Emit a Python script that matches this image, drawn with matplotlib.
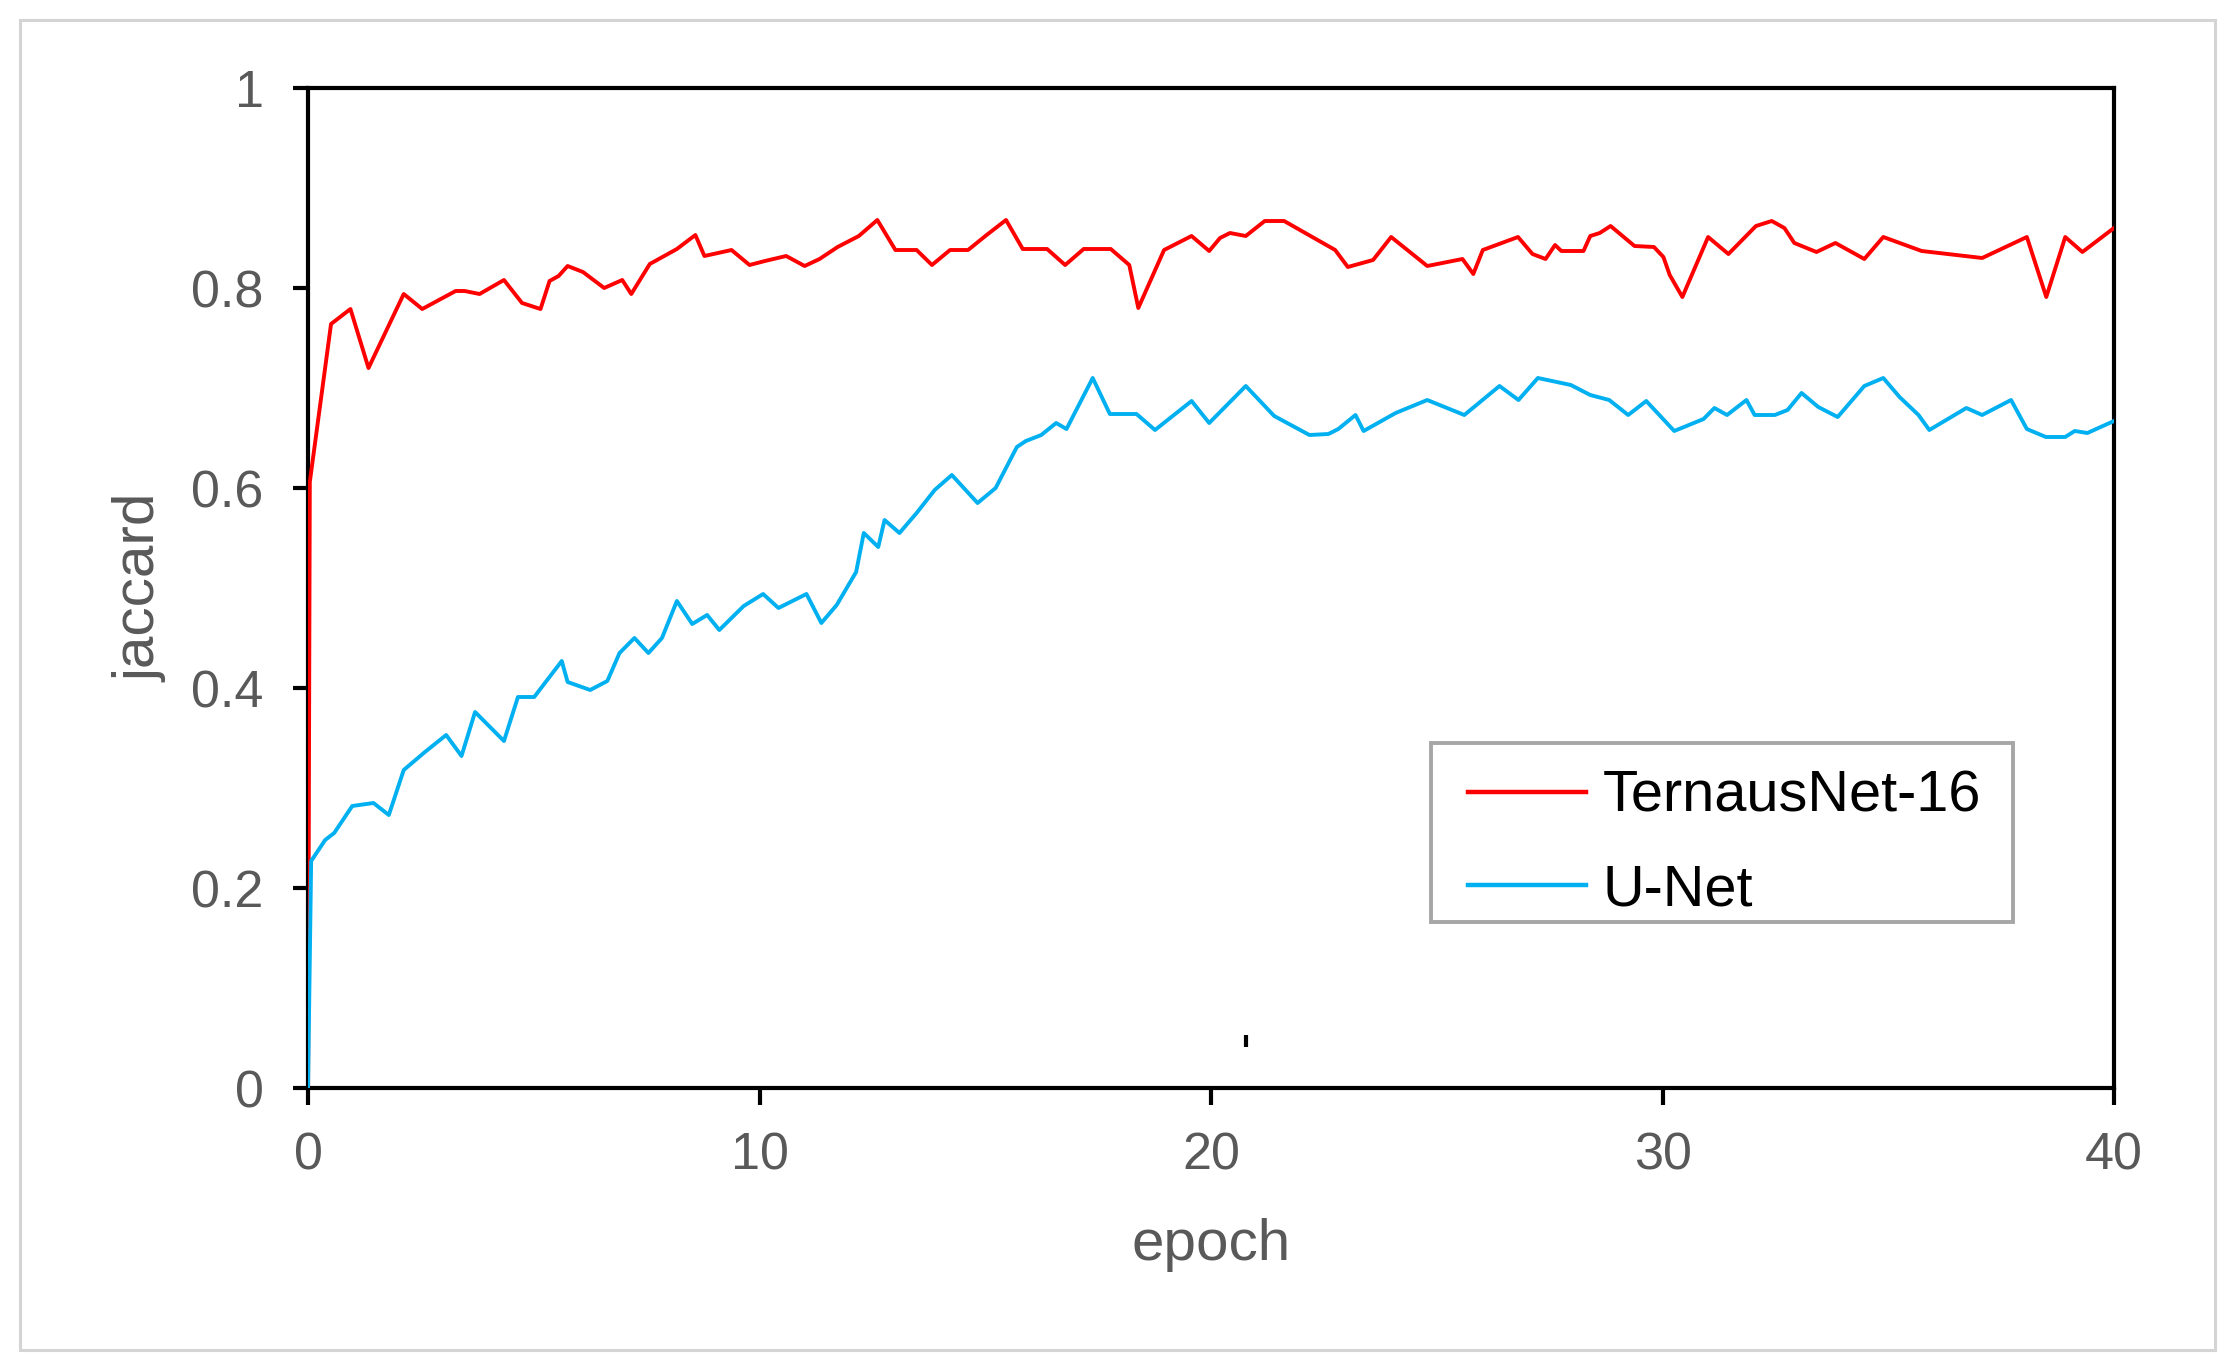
import matplotlib
matplotlib.use('Agg')
import matplotlib.pyplot as plt
from matplotlib.patches import Rectangle

plt.rcParams['font.family'] = ['Liberation Sans', 'DejaVu Sans']

# TernausNet-16
red_epoch = [0, 0.04, 0.51, 0.94, 1.34, 2.12, 2.53, 3.27, 3.47, 3.80, 4.34, 4.74, 5.15, 5.35,
             5.55, 5.75, 6.09, 6.56, 6.96, 7.16, 7.57, 8.17, 8.58, 8.78, 9.38, 9.78, 10.12,
             10.59, 11.0, 11.33, 11.73, 12.2, 12.61, 13.01, 13.48, 13.82, 14.22, 14.62, 15.03,
             15.46, 15.83, 16.37, 16.77, 17.18, 17.78, 18.19, 18.39, 18.96, 19.57, 19.96, 20.2,
             20.42, 20.77, 21.19, 21.62, 22.75, 23.03, 23.59, 23.99, 24.79, 25.57, 25.81, 26.02,
             26.8, 27.12, 27.41, 27.62, 27.76, 28.25, 28.4, 28.61, 28.85, 29.38, 29.81, 30.02,
             30.16, 30.44, 31.01, 31.46, 32.07, 32.42, 32.7, 32.92, 33.41, 33.83, 34.47, 34.89,
             35.74, 37.08, 38.07, 38.5, 38.92, 39.3, 40.0]
red_vals = [0.0, 0.606, 0.764, 0.779, 0.72, 0.794, 0.779, 0.797, 0.797, 0.794, 0.808, 0.785,
            0.779, 0.807, 0.812, 0.822, 0.816, 0.8, 0.808, 0.794, 0.824, 0.839, 0.853, 0.832,
            0.838, 0.823, 0.827, 0.832, 0.822, 0.829, 0.841, 0.852, 0.868, 0.838, 0.838, 0.823,
            0.838, 0.838, 0.853, 0.868, 0.839, 0.839, 0.823, 0.839, 0.839, 0.823, 0.78, 0.838,
            0.852, 0.837, 0.85, 0.855, 0.852, 0.867, 0.867, 0.838, 0.821, 0.828, 0.851, 0.822,
            0.829, 0.814, 0.838, 0.851, 0.834, 0.829, 0.843, 0.837, 0.837, 0.852, 0.855, 0.862,
            0.842, 0.841, 0.831, 0.813, 0.791, 0.851, 0.834, 0.862, 0.867, 0.86, 0.845, 0.836,
            0.845, 0.829, 0.851, 0.837, 0.83, 0.851, 0.791, 0.851, 0.836, 0.86]

# U-Net
blue_epoch = [0, 0.07, 0.38, 0.58, 0.98, 1.45, 1.79, 2.12, 2.59, 3.06, 3.4, 3.7, 4.34, 4.65,
              5.01, 5.62, 5.75, 6.25, 6.63, 6.9, 7.23, 7.54, 7.84, 8.17, 8.51, 8.84, 9.11, 9.65,
              10.08, 10.42, 11.04, 11.37, 11.71, 12.14, 12.31, 12.63, 12.77, 13.1, 13.48, 13.88,
              14.26, 14.83, 15.23, 15.7, 15.9, 16.24, 16.57, 16.8, 17.38, 17.76, 18.35, 18.76,
              19.57, 19.96, 20.77, 21.4, 22.18, 22.6, 22.82, 23.2, 23.38, 24.09, 24.79, 25.61,
              26.39, 26.81, 27.24, 27.97, 28.4, 28.82, 29.24, 29.64, 30.26, 30.91, 31.15, 31.43,
              31.86, 32.04, 32.49, 32.77, 33.08, 33.45, 33.88, 34.47, 34.89, 35.25, 35.67, 35.91,
              36.73, 37.08, 37.72, 38.07, 38.49, 38.92, 39.13, 39.41, 40.0]
blue_vals = [0.0, 0.227, 0.248, 0.255, 0.282, 0.285, 0.273, 0.318, 0.336, 0.353, 0.332, 0.376,
             0.347, 0.391, 0.391, 0.427, 0.406, 0.398, 0.407, 0.435, 0.45, 0.435, 0.45, 0.487,
             0.464, 0.473, 0.458, 0.482, 0.494, 0.48, 0.494, 0.465, 0.483, 0.516, 0.555, 0.541,
             0.568, 0.555, 0.575, 0.598, 0.613, 0.585, 0.6, 0.641, 0.647, 0.653, 0.665, 0.659,
             0.71, 0.674, 0.674, 0.658, 0.687, 0.665, 0.702, 0.672, 0.653, 0.654, 0.659, 0.673,
             0.657, 0.675, 0.688, 0.673, 0.702, 0.688, 0.71, 0.703, 0.693, 0.688, 0.673, 0.687,
             0.657, 0.669, 0.68, 0.673, 0.688, 0.673, 0.673, 0.678, 0.695, 0.681, 0.671, 0.702,
             0.71, 0.691, 0.673, 0.658, 0.68, 0.673, 0.688, 0.659, 0.651, 0.651, 0.657, 0.655,
             0.667]

series_names = ['TernausNet-16', 'U-Net']
x_ticks = [0, 10, 20, 30, 40]
y_ticks = [0, 0.2, 0.4, 0.6, 0.8, 1]
y_ticklabels = ['0', '0.2', '0.4', '0.6', '0.8', '1']

# small stray tick that is in the original picture
stray_x = [20.78, 20.78]
stray_y = [0.041, 0.053]

grey = '#595959'

fig = plt.figure(figsize=(22.38, 13.68), dpi=100)
ax = fig.add_axes([308 / 2238, 1 - 1088 / 1368, 1806 / 2238, 1000 / 1368])

ax.plot(red_epoch, red_vals, color='#ff0000', lw=2.8, label=series_names[0], zorder=3)
ax.plot(blue_epoch, blue_vals, color='#00b0f0', lw=2.8, label=series_names[1], zorder=4)
ax.plot(stray_x, stray_y, color='black', lw=3, solid_capstyle='butt')

ax.set_xlim(0, 40)
ax.set_ylim(0, 1)
ax.set_xticks(x_ticks)
ax.set_yticks(y_ticks)
ax.set_yticklabels(y_ticklabels)
for s in ax.spines.values():
    s.set_linewidth(3)
    s.set_color('black')
ax.tick_params(axis='x', direction='out', length=12, width=3, pad=19,
               labelsize=37.5, labelcolor=grey)
ax.tick_params(axis='y', direction='out', length=11, width=3, pad=21,
               labelsize=37.5, labelcolor=grey)

ax.set_xlabel('epoch', fontsize=42, color=grey, labelpad=27)
ax.set_ylabel('jaccard', fontsize=42, color=grey, labelpad=17)

# legend frame drawn by hand so the paddings match
ax.add_patch(Rectangle((0.622, 0.166), 0.322, 0.179, transform=ax.transAxes,
                       facecolor='white', edgecolor='#a6a6a6', lw=2.8, zorder=5))
leg = ax.legend(loc='upper left', bbox_to_anchor=(0.6423, 0.318), frameon=False,
                fontsize=41.5, borderpad=0, borderaxespad=0, handlelength=2.05,
                handletextpad=0.29, labelspacing=0.68)
leg.set_zorder(6)
for line in leg.get_lines():
    line.set_linewidth(3.2)

# grey border round the whole picture
fig.patches.append(Rectangle((20 / 2238, 1 - 1350 / 1368), 2195 / 2238, 1330 / 1368,
                             transform=fig.transFigure, fill=False,
                             edgecolor='#d4d4d4', lw=2.2))

fig.savefig('out.png', dpi=100)
